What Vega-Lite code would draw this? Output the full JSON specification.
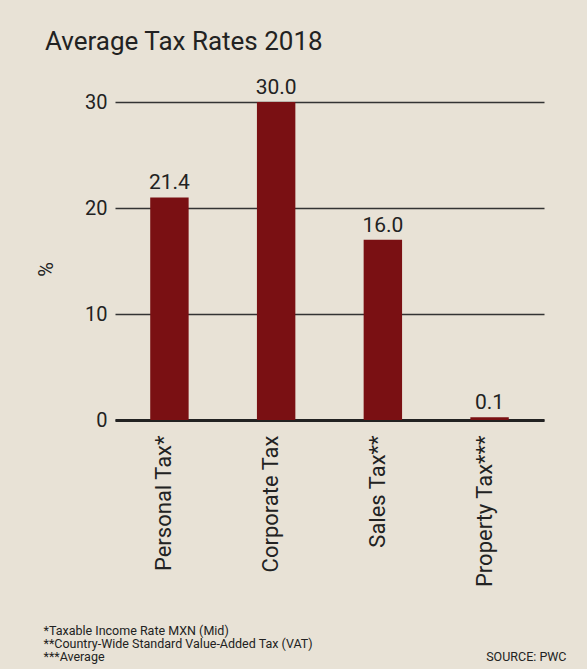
{
  "$schema": "https://vega.github.io/schema/vega-lite/v6.json",
  "width": 429,
  "height": 318,
  "autosize": {"type": "none"},
  "padding": {"left": 115, "top": 102, "right": 43, "bottom": 249},
  "background": "#e8e2d6",
  "title": {
    "text": "Average Tax Rates 2018",
    "anchor": "start",
    "frame": "group",
    "dx": -70,
    "fontSize": 26,
    "font": "Roboto",
    "fontWeight": "normal",
    "color": "#222222",
    "baseline": "alphabetic",
    "offset": 1
  },
  "data": {
    "values": [
      {"tax": "Personal Tax*", "value": 21.0, "label": "21.4"},
      {"tax": "Corporate Tax", "value": 30.0, "label": "30.0"},
      {"tax": "Sales Tax**", "value": 17.0, "label": "16.0"},
      {"tax": "Property Tax***", "value": 0.25, "label": "0.1"}
    ]
  },
  "encoding": {
    "x": {
      "field": "tax",
      "type": "nominal",
      "sort": null,
      "scale": {"paddingInner": 0.64, "paddingOuter": 0.33},
      "axis": {
        "labelAngle": -90,
        "labelAlign": "right",
        "labelBaseline": "alphabetic",
        "labelOffset": 2,
        "labelPadding": 15,
        "labelFontSize": 22,
        "labelFont": "Roboto",
        "labelColor": "#222222",
        "ticks": false,
        "domain": true,
        "domainColor": "#222222",
        "domainWidth": 3,
        "grid": false,
        "title": ["*Taxable Income Rate MXN (Mid)", "**Country-Wide Standard Value-Added Tax (VAT)", "***Average"],
        "titleFont": "Roboto",
        "titleFontSize": 12.5,
        "titleFontWeight": "normal",
        "titleColor": "#222222",
        "titleAlign": "left",
        "titleAnchor": "start",
        "titleBaseline": "alphabetic",
        "titleLineHeight": 13.3,
        "titleX": -72,
        "titleY": 214
      }
    }
  },
  "layer": [
    {
      "mark": {"type": "bar", "color": "#7a1013"},
      "encoding": {
        "y": {
          "field": "value",
          "type": "quantitative",
          "scale": {"domain": [0, 30], "nice": false},
          "axis": {
            "values": [0, 10, 20, 30],
            "grid": true,
            "gridColor": "#333333",
            "gridWidth": 1.6,
            "gridOpacity": 1,
            "domain": false,
            "ticks": false,
            "labelPadding": 8,
            "labelFontSize": 20,
            "labelFont": "Roboto",
            "labelColor": "#222222",
            "title": "%",
            "titleFont": "Roboto",
            "titleFontSize": 20,
            "titleFontWeight": "normal",
            "titleColor": "#222222",
            "titleAngle": -90,
            "titleAlign": "center",
            "titleBaseline": "middle",
            "titleX": -69,
            "titleY": 167
          }
        }
      }
    },
    {
      "mark": {"type": "text", "baseline": "alphabetic", "align": "center", "dy": -8, "font": "Roboto", "fontSize": 21, "color": "#222222"},
      "encoding": {
        "y": {
          "field": "value",
          "type": "quantitative",
          "axis": {
            "orient": "right",
            "grid": false,
            "domain": false,
            "ticks": false,
            "labels": false,
            "title": "SOURCE: PWC",
            "titleFont": "Roboto",
            "titleFontSize": 12.5,
            "titleFontWeight": "normal",
            "titleColor": "#222222",
            "titleAngle": 0,
            "titleAlign": "right",
            "titleBaseline": "alphabetic",
            "titleX": 22,
            "titleY": 558
          }
        },
        "text": {"field": "label"}
      }
    }
  ],
  "resolve": {"axis": {"y": "independent"}},
  "config": {
    "view": {"stroke": null},
    "font": "Roboto"
  }
}
